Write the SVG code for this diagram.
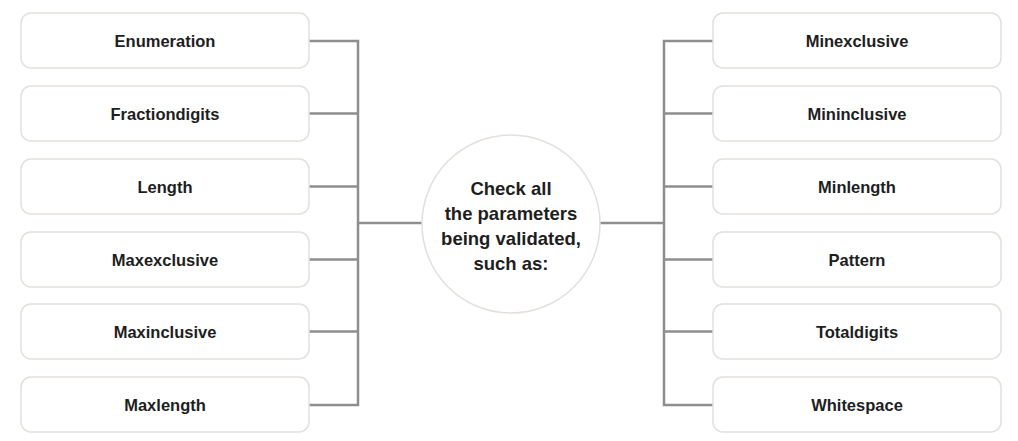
<svg xmlns="http://www.w3.org/2000/svg" width="1018" height="441" viewBox="0 0 1018 441">
<style>
.box{fill:#fff;stroke:#e4dfdb;stroke-width:1.5}
.lbl{font-family:"Liberation Sans",Arial,sans-serif;font-weight:bold;font-size:16.5px;fill:#1e1e1e;text-anchor:middle;dominant-baseline:central}
.ctr{font-family:"Liberation Sans",Arial,sans-serif;font-weight:bold;font-size:18.5px;fill:#1e1e1e;text-anchor:middle;dominant-baseline:central}
.con{fill:none;stroke:#8e8e8e;stroke-width:2.5}
</style>
<rect width="1018" height="441" fill="#fff"/>
<g id="connectors">
<path class="con" d="M309 41H358V405H309M309 113.5H358M309 186.5H358M309 259.5H358M309 331.5H358M358 223H422"/>
<path class="con" d="M713 41H664V405H713M713 113.5H664M713 186.5H664M713 259.5H664M713 331.5H664M664 223H600"/>
</g>
<g id="n-enumeration"><rect class="box" x="21" y="13" width="288" height="55" rx="10"/><text class="lbl" x="165" y="41">Enumeration</text></g>
<g id="n-fractiondigits"><rect class="box" x="21" y="86" width="288" height="55" rx="10"/><text class="lbl" x="165" y="114">Fractiondigits</text></g>
<g id="n-length"><rect class="box" x="21" y="159" width="288" height="55" rx="10"/><text class="lbl" x="165" y="187">Length</text></g>
<g id="n-maxexclusive"><rect class="box" x="21" y="232" width="288" height="55" rx="10"/><text class="lbl" x="165" y="260">Maxexclusive</text></g>
<g id="n-maxinclusive"><rect class="box" x="21" y="304" width="288" height="55" rx="10"/><text class="lbl" x="165" y="332">Maxinclusive</text></g>
<g id="n-maxlength"><rect class="box" x="21" y="377" width="288" height="55" rx="10"/><text class="lbl" x="165" y="405">Maxlength</text></g>
<g id="n-minexclusive"><rect class="box" x="713" y="13" width="288" height="55" rx="10"/><text class="lbl" x="857" y="41">Minexclusive</text></g>
<g id="n-mininclusive"><rect class="box" x="713" y="86" width="288" height="55" rx="10"/><text class="lbl" x="857" y="114">Mininclusive</text></g>
<g id="n-minlength"><rect class="box" x="713" y="159" width="288" height="55" rx="10"/><text class="lbl" x="857" y="187">Minlength</text></g>
<g id="n-pattern"><rect class="box" x="713" y="232" width="288" height="55" rx="10"/><text class="lbl" x="857" y="260">Pattern</text></g>
<g id="n-totaldigits"><rect class="box" x="713" y="304" width="288" height="55" rx="10"/><text class="lbl" x="857" y="332">Totaldigits</text></g>
<g id="n-whitespace"><rect class="box" x="713" y="377" width="288" height="55" rx="10"/><text class="lbl" x="857" y="405">Whitespace</text></g>
<g id="n-center"><circle cx="511" cy="224" r="89" fill="#fff" stroke="#e4dfdb" stroke-width="1.5"/>
<text class="ctr" x="511" y="188">Check all</text>
<text class="ctr" x="511" y="213">the parameters</text>
<text class="ctr" x="511" y="238">being validated,</text>
<text class="ctr" x="511" y="263">such as:</text></g>
</svg>
